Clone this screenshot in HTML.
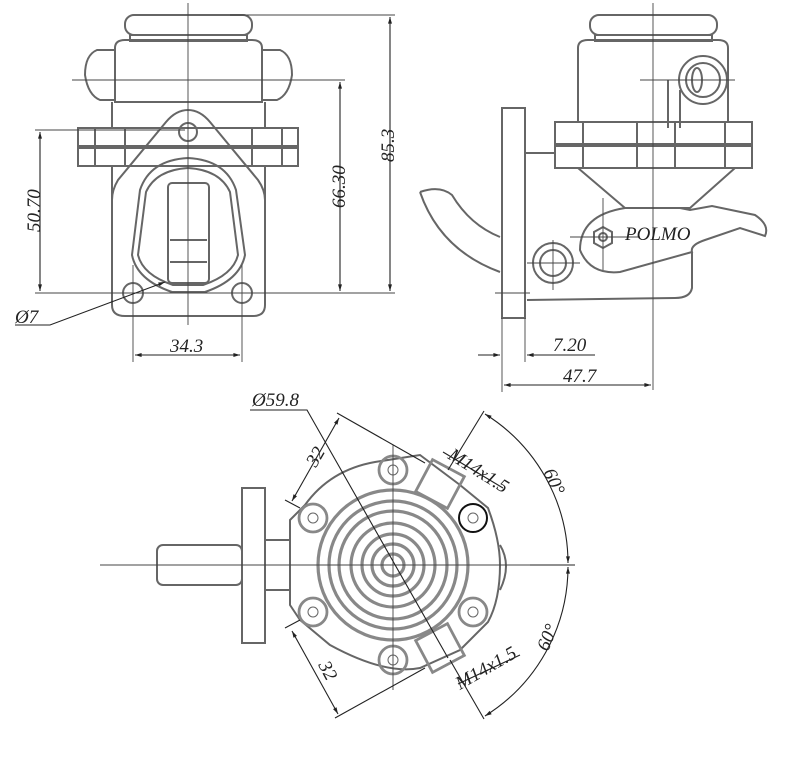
<!DOCTYPE html>
<html><head><meta charset="utf-8"><style>
html,body{margin:0;padding:0;background:#fff;}
svg{display:block}
text{font-family:"Liberation Serif",serif;font-style:italic;fill:#222;font-size:19px}
</style></head><body>
<svg width="798" height="768" viewBox="0 0 798 768" xmlns="http://www.w3.org/2000/svg">
<defs>
<marker id="a" viewBox="0 0 10 10" refX="10" refY="5" markerWidth="9" markerHeight="6" orient="auto-start-reverse"><path d="M0,2 L10,5 L0,8 z" fill="#222"/></marker>
</defs>
<g fill="none" stroke="#666" stroke-width="2">
<rect x="125" y="15" width="127" height="20" rx="9"/>
<rect x="130" y="35" width="117" height="6"/>
<path d="M115 48 Q115 40 125 40 L252 40 Q262 40 262 48 L262 102 L115 102 Z"/>
<path d="M115 50 L97 50 Q85 55 85 75 Q88 95 100 100 L115 100"/>
<path d="M262 50 L280 50 Q292 55 292 75 Q289 95 277 100 L262 100"/>
<path d="M112 102 L112 128 M265 102 L265 128"/>
<rect x="78" y="128" width="220" height="18"/>
<rect x="78" y="148" width="220" height="18"/>
<line x1="95" y1="128" x2="95" y2="166"/><line x1="125" y1="128" x2="125" y2="166"/>
<line x1="252" y1="128" x2="252" y2="166"/><line x1="282" y1="128" x2="282" y2="166"/>
<path d="M112 166 L112 305 Q112 316 125 316 L253 316 Q265 316 265 305 L265 166"/>
<path d="M188 110 Q200 110 210 122 L258 180 Q265 190 265 200 L265 300 M188 110 Q176 110 166 122 L118 180 Q112 190 112 200"/>
<circle cx="188" cy="132" r="9"/>
<path d="M140 190 Q150 160 188 158 Q226 160 236 190 L245 255 Q240 280 205 292 L172 292 Q137 280 132 255 Z"/>
<path d="M146 192 Q156 170 188 168 Q220 170 230 192 L238 255 Q233 275 203 285 L173 285 Q143 275 138 255 Z"/>
<rect x="168" y="183" width="41" height="100" rx="4"/>
<line x1="170" y1="240" x2="207" y2="240"/><line x1="170" y1="262" x2="207" y2="262"/>
<circle cx="133" cy="293" r="10"/><circle cx="242" cy="293" r="10"/>
<rect x="590" y="15" width="127" height="20" rx="9"/>
<rect x="595" y="35" width="117" height="6"/>
<path d="M578 48 Q578 40 588 40 L718 40 Q728 40 728 48 L728 122 L578 122 Z"/>
<circle cx="703" cy="80" r="24"/><circle cx="703" cy="80" r="17"/><ellipse cx="697" cy="80" rx="5" ry="12"/>
<path d="M668 80 L668 128 M680 90 L680 128"/>
<rect x="555" y="122" width="197" height="22"/>
<rect x="555" y="146" width="197" height="22"/>
<line x1="583" y1="122" x2="583" y2="168"/><line x1="637" y1="122" x2="637" y2="168"/><line x1="675" y1="122" x2="675" y2="168"/><line x1="725" y1="122" x2="725" y2="168"/>
<rect x="502" y="108" width="23" height="210"/>
<line x1="525" y1="153" x2="555" y2="153"/>
<path d="M578 168 L625 208 L690 208 L735 168"/>
<path d="M625 208 L680 208 L690 210 L712 206 L755 215 Q770 225 765 236 L740 228 L705 240 Q690 245 692 252 L620 272 Q590 275 580 250 Q580 215 625 208"/>
<path d="M692 252 L692 288 Q690 298 675 298 L527 300"/>
<path d="M420 192 Q440 185 452 195 Q470 225 500 237 M420 192 Q440 250 500 272"/>
<polygon points="603,227 612,232 612,243 603,248 594,243 594,232"/><circle cx="603" cy="237" r="4"/>
<circle cx="553" cy="263" r="20"/><circle cx="553" cy="263" r="13"/>
<rect x="157" y="545" width="85" height="40" rx="6"/>
<rect x="242" y="488" width="23" height="155"/>
<line x1="265" y1="540" x2="290" y2="540"/><line x1="265" y1="590" x2="290" y2="590"/>
<path d="M290 520 L305 505 Q330 470 375 462 L420 455 L460 485 L488 508 Q500 540 500 565 Q500 600 488 622 L460 650 L420 668 Q385 675 330 645 L300 620 L290 605 Z"/>
<path d="M500 545 Q512 565 500 590"/>
<g stroke="#888" stroke-width="3.2">
<circle cx="393" cy="565" r="75"/><circle cx="393" cy="565" r="64"/><circle cx="393" cy="565" r="54"/>
<circle cx="393" cy="565" r="42"/><circle cx="393" cy="565" r="31"/><circle cx="393" cy="565" r="21"/><circle cx="393" cy="565" r="11"/>
</g>
<g stroke="#888" stroke-width="2.8">
<circle cx="313" cy="518" r="14"/><circle cx="313" cy="612" r="14"/><circle cx="473" cy="612" r="14"/>
<circle cx="393" cy="470" r="14"/><circle cx="393" cy="660" r="14"/>
<rect x="422" y="466" width="36" height="36" transform="rotate(28 440 484)"/>
<rect x="422" y="630" width="36" height="36" transform="rotate(-28 440 648)"/>
</g>
<g stroke-width="1"><circle cx="313" cy="518" r="5"/><circle cx="313" cy="612" r="5"/><circle cx="473" cy="612" r="5"/><circle cx="473" cy="518" r="5"/><circle cx="393" cy="470" r="5"/><circle cx="393" cy="660" r="5"/></g>
</g>
<circle cx="473" cy="518" r="14" fill="none" stroke="#111" stroke-width="2"/>
<g stroke="#444" stroke-width="0.9" fill="none">
<line x1="188" y1="3" x2="188" y2="325"/><line x1="72" y1="80" x2="345" y2="80"/>
<line x1="653" y1="3" x2="653" y2="390"/><line x1="640" y1="80" x2="735" y2="80"/>
<line x1="603" y1="198" x2="603" y2="270"/><line x1="570" y1="237" x2="640" y2="237"/>
<line x1="553" y1="240" x2="553" y2="290"/><line x1="527" y1="263" x2="580" y2="263"/>
<line x1="495" y1="293" x2="530" y2="293"/>
<line x1="100" y1="565" x2="530" y2="565"/><line x1="393" y1="445" x2="393" y2="690"/>
<line x1="230" y1="15" x2="395" y2="15"/>
<line x1="290" y1="80" x2="345" y2="80"/>
<line x1="35" y1="130" x2="185" y2="130"/>
<line x1="35" y1="293" x2="395" y2="293"/>
<line x1="133" y1="265" x2="133" y2="362"/><line x1="242" y1="265" x2="242" y2="362"/>
<line x1="502" y1="318" x2="502" y2="392"/><line x1="525" y1="318" x2="525" y2="362"/>
</g>
<g stroke="#222" stroke-width="1.1" fill="none">
<line x1="390" y1="17" x2="390" y2="291" marker-start="url(#a)" marker-end="url(#a)"/>
<line x1="340" y1="82" x2="340" y2="291" marker-start="url(#a)" marker-end="url(#a)"/>
<line x1="40" y1="132" x2="40" y2="291" marker-start="url(#a)" marker-end="url(#a)"/>
<line x1="135" y1="355" x2="240" y2="355" marker-start="url(#a)" marker-end="url(#a)"/>
<path d="M15 325 L50 325 L165 282" marker-end="url(#a)"/>
<line x1="478" y1="355" x2="500" y2="355" marker-end="url(#a)"/>
<line x1="595" y1="355" x2="527" y2="355" marker-end="url(#a)"/>
<line x1="504" y1="385" x2="651" y2="385" marker-start="url(#a)" marker-end="url(#a)"/>
<path d="M250 410 L307 410 L448 658"/>
<line x1="337" y1="413" x2="425" y2="463"/>
<line x1="285" y1="500" x2="300" y2="508"/>
<line x1="339" y1="418" x2="292" y2="501" marker-start="url(#a)" marker-end="url(#a)"/>
<line x1="285" y1="628" x2="300" y2="620"/>
<line x1="335" y1="718" x2="425" y2="668"/>
<line x1="292" y1="631" x2="338" y2="714" marker-start="url(#a)" marker-end="url(#a)"/>
<line x1="443" y1="452" x2="503" y2="488"/>
<line x1="484" y1="411" x2="448" y2="470"/>
<line x1="458" y1="684" x2="520" y2="655"/>
<line x1="484" y1="719" x2="450" y2="660"/>
<line x1="530" y1="565" x2="575" y2="565"/>
<path d="M485 414 A176 176 0 0 1 568 563" marker-start="url(#a)" marker-end="url(#a)"/>
<path d="M568 567 A176 176 0 0 1 485 716" marker-start="url(#a)" marker-end="url(#a)"/>
</g>
<text x="0" y="0" transform="translate(394,162) rotate(-90)">85.3</text>
<text x="0" y="0" transform="translate(345,208) rotate(-90)">66.30</text>
<text x="0" y="0" transform="translate(40,232) rotate(-90)">50.70</text>
<text x="170" y="352">34.3</text>
<text x="15" y="323">Ø7</text>
<text x="625" y="240" font-size="15">POLMO</text>
<text x="553" y="351">7.20</text>
<text x="563" y="382">47.7</text>
<text x="252" y="406">Ø59.8</text>
<text x="0" y="0" transform="translate(316,468) rotate(-60)">32</text>
<text x="0" y="0" transform="translate(318,665) rotate(62)">32</text>
<text x="0" y="0" transform="translate(447,458) rotate(32)">M14x1.5</text>
<text x="0" y="0" transform="translate(460,690) rotate(-30)">M14x1.5</text>
<text x="0" y="0" transform="translate(543,472) rotate(65)">60°</text>
<text x="0" y="0" transform="translate(548,652) rotate(-68)">60°</text>
</svg>
</body></html>
